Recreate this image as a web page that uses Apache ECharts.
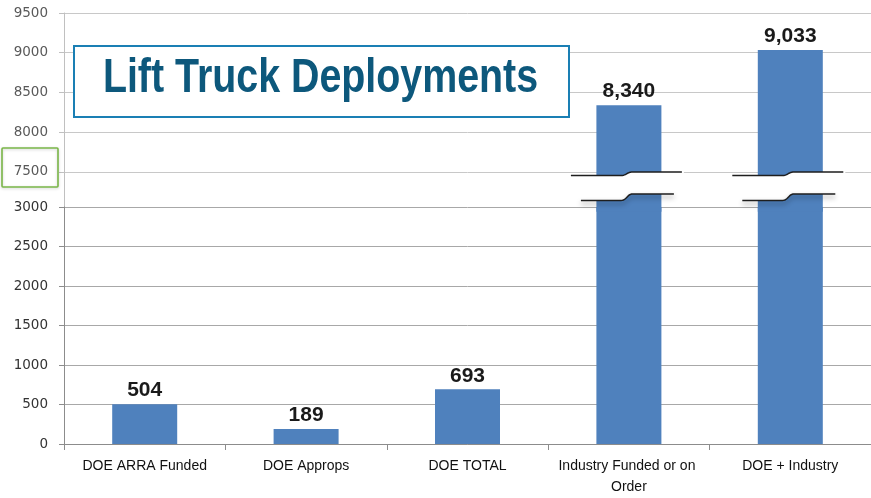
<!DOCTYPE html>
<html>
<head>
<meta charset="utf-8">
<script src="https://cdn.jsdelivr.net/npm/echarts@6/dist/echarts.min.js"></script>
<style>
html,body{margin:0;padding:0;background:#fff;}
#chart{width:871px;height:498px;}
</style>
</head>
<body>
<div id="chart"></div>
<script>
// ---- data ----
const categories = ['DOE ARRA Funded', 'DOE Approps', 'DOE TOTAL', 'Industry Funded or on Order', 'DOE + Industry'];
const deployments = [504, 189, 693, 8340, 9033];
const lowerAxis = { min: 0, max: 3000, interval: 500 };
const upperAxis = { min: 7000, max: 9500, interval: 500 };  // labels shown from 7500 up
const titleText = 'Lift Truck Deployments';

// ---- font detection ----
function hasFont(name) {
  const ctx = document.createElement('canvas').getContext('2d');
  const s = 'Lift Truck Deployments 0123456789';
  ctx.font = 'bold 40px monospace';
  const w1 = ctx.measureText(s).width;
  ctx.font = 'bold 40px "' + name + '", monospace';
  return Math.abs(ctx.measureText(s).width - w1) > 0.5;
}
const narrow = hasFont('Liberation Sans Narrow');
const narrowFamily = narrow ? '"Liberation Sans Narrow"' : '"Liberation Sans", Arial, sans-serif';
const narrowScale = narrow ? 1 : 0.82;

const fmt = v => Number(v).toLocaleString('en-US');
const plain = v => String(v);
const barColor = '#4f81bd';

const chart = echarts.init(document.getElementById('chart'), null, { renderer: 'canvas' });

const upperData = deployments.map(v => (v >= upperAxis.min ? v : '-'));

chart.setOption({
  animation: false,
  backgroundColor: '#ffffff',
  grid: [
    { left: 64, right: -8, top: 13, bottom: 286.3, containLabel: false },
    { left: 64, right: -8, top: 207, bottom: 53, containLabel: false }
  ],
  xAxis: [
    { type: 'category', gridIndex: 0, data: categories, show: false },
    {
      type: 'category', gridIndex: 1, data: categories,
      axisLine: { lineStyle: { color: '#8c8c8c', width: 1 } },
      axisTick: { show: true, length: 6, lineStyle: { color: '#8c8c8c' } },
      axisLabel: {
        interval: 0, margin: 12, color: '#111', fontSize: 14,
        fontFamily: '"Liberation Sans", Arial, sans-serif',
        width: 152, overflow: 'break', lineHeight: 21
      }
    }
  ],
  yAxis: [
    {
      type: 'value', gridIndex: 0,
      min: upperAxis.min, max: upperAxis.max, interval: upperAxis.interval,
      axisLine: { show: true, lineStyle: { color: '#c0c0c0' } },
      axisTick: { show: true, length: 5, lineStyle: { color: '#c0c0c0' } },
      axisLabel: { showMinLabel: false, margin: 16, color: '#595959', fontSize: 13.5, fontFamily: '"DejaVu Sans", Verdana, sans-serif', formatter: plain },
      splitLine: { show: true, showMinLine: false, lineStyle: { color: '#c8c8c8', width: 1 } }
    },
    {
      type: 'value', gridIndex: 1,
      min: lowerAxis.min, max: lowerAxis.max, interval: lowerAxis.interval,
      axisLine: { show: true, lineStyle: { color: '#8c8c8c' } },
      axisTick: { show: true, length: 5, lineStyle: { color: '#8c8c8c' } },
      axisLabel: { margin: 16, color: '#333', fontSize: 13.5, fontFamily: '"DejaVu Sans", Verdana, sans-serif', formatter: plain },
      splitLine: { show: true, lineStyle: { color: '#a8a8a8', width: 1 } }
    }
  ],
  series: [
    {
      type: 'bar', xAxisIndex: 1, yAxisIndex: 1, data: deployments,
      barWidth: 65, clip: true,
      itemStyle: { color: barColor },
      label: {
        show: true, position: 'top', distance: 3,
        fontFamily: narrowFamily, fontWeight: 'bold', fontSize: narrow ? 25 : 21, color: '#1a1a1a',
        formatter: p => (p.value <= lowerAxis.max ? fmt(p.value) : '')
      }
    },
    {
      type: 'bar', xAxisIndex: 0, yAxisIndex: 0, data: upperData,
      barWidth: 65, clip: true,
      itemStyle: { color: barColor },
      label: {
        show: true, position: 'top', distance: 3,
        fontFamily: narrowFamily, fontWeight: 'bold', fontSize: narrow ? 25 : 21, color: '#1a1a1a',
        formatter: p => fmt(p.value)
      }
    }
  ]
});

// ---- decorations: axis break marks, title box, highlight box ----
function sCurve(x0, y0, x1, y1, n) {
  const pts = [];
  const cx = (x0 + x1) / 2;
  for (let i = 0; i <= n; i++) {
    const t = i / n, u = 1 - t;
    const x = u*u*u*x0 + 3*u*u*t*cx + 3*u*t*t*cx + t*t*t*x1;
    const y = u*u*u*y0 + 3*u*u*t*y0 + 3*u*t*t*y1 + t*t*t*y1;
    pts.push([x, y]);
  }
  return pts;
}
function edge(xl, yl, xr, yr) {
  return [[xl, yl]].concat(sCurve(-8, yl, 4, yr, 12)).concat([[xr, yr]]);
}

const graphics = [];
const breakY = chart.convertToPixel({ yAxisIndex: 0 }, upperAxis.min + upperAxis.interval);
deployments.forEach((v, i) => {
  if (v <= lowerAxis.max) return;
  const cx = chart.convertToPixel({ xAxisIndex: 1 }, categories[i]);
  const top = edge(-58, 3.5, 53, 0);
  const bottom = edge(-48, 28.5, 45, 22);
  const fillPts = top.concat([[55, 0], [55, 22]]).concat(bottom.slice().reverse()).concat([[-60, 28.5], [-60, 3.5]]);
  graphics.push({
    type: 'group', x: cx, y: breakY, z: 50,
    children: [
      { type: 'polygon', z: 50, shape: { points: fillPts }, style: { fill: '#ffffff', stroke: null } },
      { type: 'polyline', z: 51, shape: { points: bottom }, style: { stroke: '#1e1e1e', lineWidth: 1.5, fill: null, shadowBlur: 5, shadowOffsetY: 3, shadowColor: 'rgba(0,0,0,0.45)' } },
      { type: 'polyline', z: 51, shape: { points: top }, style: { stroke: '#1e1e1e', lineWidth: 1.5, fill: null } }
    ]
  });
});

// highlight box around the 7500 label
graphics.push({
  type: 'rect', z: 60,
  shape: { x: 2, y: breakY - 24, width: 56, height: 39, r: 1 },
  style: { fill: null, stroke: '#7ab648', lineWidth: 1.6, shadowBlur: 3, shadowColor: 'rgba(0,0,0,0.2)', shadowOffsetY: 1 }
});

// title box
graphics.push({
  type: 'group', z: 70,
  children: [
    { type: 'rect', z: 70, shape: { x: 74, y: 46, width: 495, height: 71 }, style: { fill: '#ffffff', stroke: '#1a7fb4', lineWidth: 2 } },
    {
      type: 'text', z: 71, x: 320.5, y: 79, scaleX: narrowScale, scaleY: 1,
      style: { text: titleText, fill: '#0d587c', font: 'bold 48px ' + narrowFamily, align: 'center', verticalAlign: 'middle' }
    }
  ]
});

chart.setOption({ graphic: graphics });
</script>
</body>
</html>
